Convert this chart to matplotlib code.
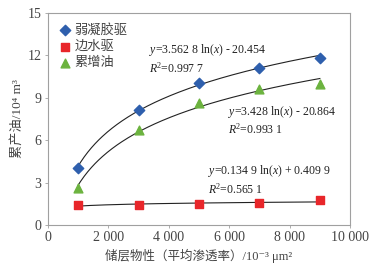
import numpy as np
import matplotlib
matplotlib.use("Agg")
import matplotlib.pyplot as plt

plt.rcParams["font.family"] = ["Liberation Serif", "Noto Sans CJK SC", "DejaVu Sans"]
plt.rcParams["mathtext.fontset"] = "custom"
plt.rcParams["mathtext.rm"] = "Liberation Serif"
plt.rcParams["mathtext.it"] = "Liberation Serif:italic"

# data
perm = [1000, 3000, 5000, 7000, 9000]
gel = [4.05, 8.1, 10.05, 11.1, 11.8]
edge = [1.4, 1.4, 1.5, 1.55, 1.75]
incr = [2.6, 6.7, 8.6, 9.6, 9.95]

# log trend coefficients as printed on the chart
fit_gel = (3.5628, -20.454)
fit_edge = (0.1349, 0.4099)
fit_incr = (3.428, -20.864)

eq_gel = "$y$=3.562 8 ln($x$) - 20.454\n$R$$^2$=0.997 7"
eq_incr = "$y$=3.428 ln($x$) - 20.864\n$R$$^2$=0.993 1"
eq_edge = "$y$=0.134 9 ln($x$) + 0.409 9\n$R$$^2$=0.565 1"

fig = plt.figure(figsize=(3.74, 2.68), dpi=100)
ax = fig.add_axes([0.128, 0.160, 0.808, 0.793])

xs = np.linspace(1000, 9000, 200)
for a, b in (fit_gel, fit_incr, fit_edge):
    ax.plot(xs, a * np.log(xs) + b, color="#222222", lw=0.8, zorder=2)

ax.scatter(perm, gel, marker="D", s=28, color="#2e5fad", label="弱凝胶驱", zorder=3)
ax.scatter(perm, edge, marker="s", s=40, color="#e8262a", label="边水驱", zorder=3)
ax.scatter(perm, incr, marker="^", s=40, color="#6cb33f", label="累增油", zorder=3)

fs = 8.5
kw = dict(fontsize=fs, va="center", linespacing=1.25, color="#222222")
ax.text(3350, 11.75, eq_gel, **kw)
ax.text(5950, 7.4, eq_incr, **kw)
ax.text(5300, 3.2, eq_edge, **kw)

ax.set_xlim(0, 10000)
ax.set_ylim(0, 15)
ax.set_xticks(range(0, 10001, 2000))
ax.set_xticklabels(["0", "2 000", "4 000", "6 000", "8 000", "10 000"])
ax.set_yticks(range(0, 16, 3))
for s in ax.spines.values():
    s.set_color("#a0a0a0")
    s.set_linewidth(0.8)
ax.tick_params(length=2.5, width=0.6, color="#a0a0a0", labelsize=10,
               labelcolor="#444444", pad=2)

ax.set_xlabel("储层物性（平均渗透率）/10⁻³ μm²", fontsize=9, color="#444444", labelpad=3)
ax.set_ylabel("累产油/10⁴ m³", fontsize=9.5, color="#444444", labelpad=3)

ax.legend(loc="upper left", frameon=False, fontsize=9.5, handletextpad=0.1,
          borderaxespad=0.3, labelspacing=0.3, handlelength=1.2,
          labelcolor="#444444", bbox_to_anchor=(0.0, 0.99))

fig.savefig("out.png", dpi=100)
